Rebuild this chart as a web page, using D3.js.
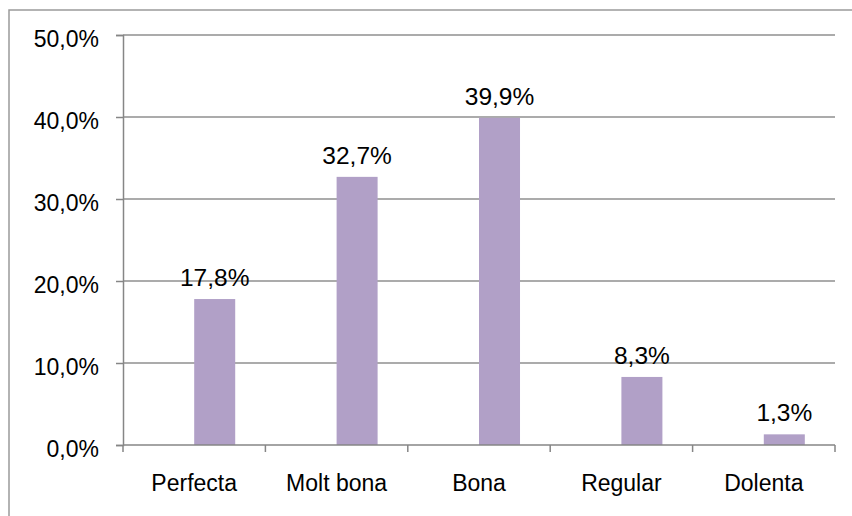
<!DOCTYPE html>
<html>
<head>
<meta charset="utf-8">
<script src="https://cdn.jsdelivr.net/npm/d3@7"></script>
<style>
  html, body { margin: 0; padding: 0; background: #fff; }
  svg { display: block; }
  text { font-family: "Liberation Sans", Arial, sans-serif; fill: #000; }
</style>
</head>
<body>
<svg id="chart" width="852" height="516"></svg>
<script>
const categories = ["Perfecta", "Molt bona", "Bona", "Regular", "Dolenta"];
const values = [0.178, 0.327, 0.399, 0.083, 0.013];
const yTicks = [0, 0.1, 0.2, 0.3, 0.4, 0.5];

const W = 852, H = 516;
const plot = { left: 123, right: 835, top: 35, bottom: 445 };
const fontSize = 23;
const labelFontSize = 24.5;

const locale = d3.formatLocale({ decimal: ",", thousands: ".", grouping: [3], currency: ["", "€"] });
const fmtAxis = locale.format(".1%");
const fmtLabel = locale.format(".1%");

const svg = d3.select("#chart");

// outer chart border
svg.append("rect")
  .attr("x", 9).attr("y", 10)
  .attr("width", 900).attr("height", 600)
  .attr("fill", "none").attr("stroke", "#9a9a9a").attr("stroke-width", 1.5);

const x = d3.scaleBand().domain(categories).range([plot.left, plot.right]).paddingInner(0).paddingOuter(0);
const y = d3.scaleLinear().domain([0, 0.5]).range([plot.bottom, plot.top]);

// gridlines
svg.append("g").selectAll("line")
  .data(yTicks.filter(d => d > 0))
  .join("line")
  .attr("x1", plot.left).attr("x2", plot.right)
  .attr("y1", d => y(d)).attr("y2", d => y(d))
  .attr("stroke", "#8f8f8f").attr("stroke-width", 1.3);

// bars
const bw = x.bandwidth();
const barW = bw * 0.288;
svg.append("g").selectAll("rect")
  .data(categories)
  .join("rect")
  .attr("x", (c) => x(c) + bw / 2)
  .attr("y", (c, i) => y(values[i]))
  .attr("width", barW)
  .attr("height", (c, i) => y(0) - y(values[i]))
  .attr("fill", "#b1a0c7");

// y axis
const yAxis = d3.axisLeft(y).tickValues(yTicks).tickFormat(fmtAxis).tickSize(7).tickPadding(17);
const gy = svg.append("g").attr("transform", `translate(${plot.left},0)`).call(yAxis);
gy.select(".domain").attr("stroke", "#868686").attr("stroke-width", 1.5);
gy.selectAll(".tick line").attr("stroke", "#868686").attr("stroke-width", 1.5);
gy.selectAll(".tick text")
  .attr("font-size", fontSize)
  .attr("font-family", "'Liberation Sans', Arial, sans-serif")
  .attr("fill", "#000")
  .attr("dy", null)
  .attr("y", 11.5);

// x axis: baseline and boundary ticks
const boundaries = categories.map(c => x(c)).concat([plot.right]);
svg.append("line")
  .attr("x1", plot.left).attr("x2", plot.right)
  .attr("y1", y(0)).attr("y2", y(0))
  .attr("stroke", "#868686").attr("stroke-width", 1.5);
svg.append("g").selectAll("line")
  .data(boundaries)
  .join("line")
  .attr("x1", d => d).attr("x2", d => d)
  .attr("y1", y(0)).attr("y2", y(0) + 7)
  .attr("stroke", "#868686").attr("stroke-width", 1.5);
svg.append("g").selectAll("text")
  .data(categories)
  .join("text")
  .attr("x", c => x(c) + bw / 2)
  .attr("y", 491)
  .attr("text-anchor", "middle")
  .attr("font-size", fontSize)
  .text(c => c);

// value labels
svg.append("g").selectAll("text")
  .data(categories)
  .join("text")
  .attr("x", c => x(c) + bw / 2 + barW / 2)
  .attr("y", (c, i) => y(values[i]) - 13)
  .attr("text-anchor", "middle")
  .attr("font-size", labelFontSize)
  .text((c, i) => fmtLabel(values[i]));
</script>
</body>
</html>
